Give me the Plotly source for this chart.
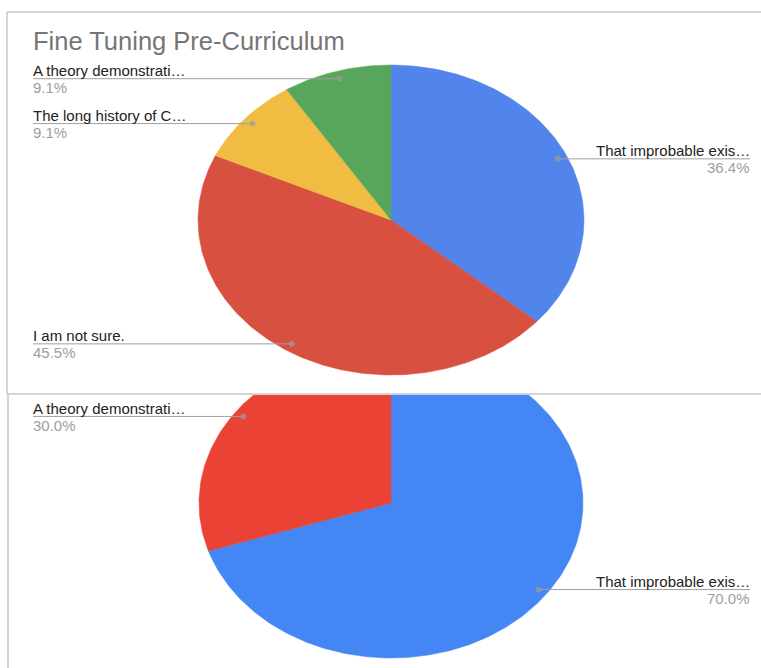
import numpy as np
import plotly.graph_objects as go

# ---------------- data ----------------
top_title = "Fine Tuning Pre-Curriculum"
top_labels = ["That improbable exis…", "I am not sure.", "The long history of C…", "A theory demonstrati…"]
top_values = [36.4, 45.5, 9.1, 9.1]
top_colors = ["#5185EC", "#D85140", "#F1BC42", "#58A55C"]

bottom_labels = ["That improbable exis…", "A theory demonstrati…"]
bottom_values = [70.0, 30.0]
bottom_colors = ["#4486F4", "#EA4335"]

# ---------------- layout constants ----------------
W, H = 761, 668
SPLIT = 395
FONT = "Liberation Sans, Arial, sans-serif"

fig = go.Figure()
annotations = []


def add_pie(values, labels, colors, cx, cy, rx, ry, xa, ya):
    total = float(sum(values))
    start = 0.0
    for v, lab, col in zip(values, labels, colors):
        a0 = start / total * 2 * np.pi
        a1 = (start + v) / total * 2 * np.pi
        start += v
        th = np.linspace(a0, a1, max(int(v * 4), 24))
        xs = [cx] + list(cx + rx * np.sin(th)) + [cx]
        ys = [cy] + list(cy - ry * np.cos(th)) + [cy]
        fig.add_trace(go.Scatter(x=xs, y=ys, fill="toself", fillcolor=col, mode="lines",
                                 line=dict(color=col, width=0.5), hoverinfo="skip",
                                 xaxis=xa, yaxis=ya, showlegend=False))
        mid = (a0 + a1) / 2
        dx = cx + 0.95 * rx * np.sin(mid)
        dy = cy - 0.95 * ry * np.cos(mid)
        if np.sin(mid) > 0:
            lx = [dx, 750]
            msize = [5, 0]
            tx, anchor = 752, "right"
        else:
            lx = [33, dx]
            msize = [0, 5]
            tx, anchor = 31, "left"
        fig.add_trace(go.Scatter(x=lx, y=[dy, dy], mode="lines+markers",
                                 line=dict(color="#a0a0a0", width=1),
                                 marker=dict(size=msize, color="#999999"),
                                 hoverinfo="skip", xaxis=xa, yaxis=ya, showlegend=False))
        annotations.append(dict(x=tx, y=dy - 8, xref=xa, yref=ya, text=lab, showarrow=False,
                                xanchor=anchor, yanchor="middle",
                                font=dict(family=FONT, size=15, color="#222222")))
        annotations.append(dict(x=tx, y=dy + 9, xref=xa, yref=ya, text=f"{v:.1f}%", showarrow=False,
                                xanchor=anchor, yanchor="middle",
                                font=dict(family=FONT, size=15, color="#9e9e9e")))


add_pie(top_values, top_labels, top_colors, 391, 220, 193, 155, "x", "y")
add_pie(bottom_values, bottom_labels, bottom_colors, 391, 503, 192, 155, "x2", "y2")

annotations.append(dict(x=31, y=41, xref="x", yref="y", text=top_title, showarrow=False,
                        xanchor="left", yanchor="middle",
                        font=dict(family=FONT, size=25.5, color="#757575")))


def px(x):
    return x / W


def py(y):
    return 1 - y / H


border = dict(color="#c6c6c6", width=1.5)
shapes = [
    dict(type="line", xref="paper", yref="paper", x0=px(7), x1=px(761), y0=py(12), y1=py(12), line=border),
    dict(type="line", xref="paper", yref="paper", x0=px(7), x1=px(7), y0=py(12), y1=py(394), line=border),
    dict(type="line", xref="paper", yref="paper", x0=px(7), x1=px(761), y0=py(394), y1=py(394), line=border),
    dict(type="line", xref="paper", yref="paper", x0=px(8), x1=px(8), y0=py(395), y1=py(668), line=border),
]

ax = dict(visible=False, showgrid=False, zeroline=False, fixedrange=True)
fig.update_layout(
    width=W, height=H,
    margin=dict(l=0, r=0, t=0, b=0),
    paper_bgcolor="white", plot_bgcolor="white",
    xaxis=dict(ax, domain=[0, 1], range=[0, W], anchor="y"),
    yaxis=dict(ax, domain=[1 - SPLIT / H, 1], range=[SPLIT, 0], anchor="x"),
    xaxis2=dict(ax, domain=[0, 1], range=[0, W], anchor="y2"),
    yaxis2=dict(ax, domain=[0, 1 - SPLIT / H], range=[H, SPLIT], anchor="x2"),
    annotations=annotations,
    shapes=shapes,
    showlegend=False,
)

fig.write_html("out.html")
